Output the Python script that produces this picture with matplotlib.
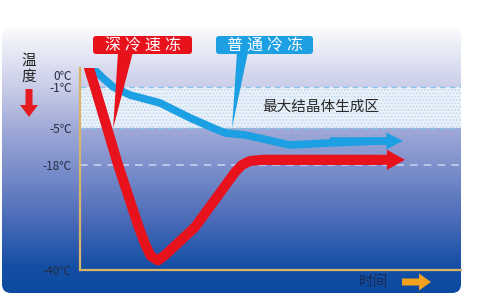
import numpy as np
import matplotlib as mpl
mpl.use('Agg')
import matplotlib.pyplot as plt
from matplotlib.colors import to_rgb
from matplotlib.patches import FancyBboxPatch, FancyArrowPatch, FancyArrow, Polygon

plt.rcParams['font.family'] = ['Noto Sans CJK SC', 'DejaVu Sans']

# temperature marks on the y axis (the axis is not linear)
tick_temps = [-40, -18, -5, -1, 0]
tick_labels = ['-40℃', '-18℃', '-5℃', '-1℃', '0℃']
tick_pos = [0, 105, 142, 183, 195]

# 深冷速冻 (deep freeze), time vs temperature, last point = arrow tip
red_t = [2.0, 2.9, 3.9, 7.1, 10.0, 15.4, 17.2, 18.6, 20.5, 22.3, 30.2, 36.7, 40.7, 42.5, 44.6, 47.8, 78.0, 85.3]
red_T = [1.0, 0.0, -1.0, -5.0, -18.0, -31.0, -34.8, -37.1, -38.0, -36.9, -31.0, -23.9, -19.5, -18.0, -16.6, -16.2, -16.2, -16.2]

# 普通冷冻 (normal freeze)
blue_t = [3.9, 6.0, 8.7, 13.1, 21.0, 28.9, 34.9, 38.1, 43.3, 55.1, 65.6, 78.0, 84.8]
blue_T = [0.4, -0.25, -1.0, -1.78, -2.56, -4.02, -5.0, -6.76, -7.46, -10.97, -10.27, -9.6, -9.57]

band = (-5, -1)      # 最大结晶体生成区
store_temp = -18

RED = '#e8121c'
BLUE = '#1d9fe3'
AXIS = '#d8b468'


def fwd(v):
    return np.interp(np.asarray(v, float), [-60] + tick_temps + [10], [-105] + tick_pos + [315])


def inv(p):
    return np.interp(np.asarray(p, float), [-105] + tick_pos + [315], [-60] + tick_temps + [10])


fig = plt.figure(figsize=(5, 3), dpi=100)

# background panel with vertical gradient
bg = fig.add_axes([0, 0, 1, 1])
bg.set_xlim(0, 500)
bg.set_ylim(300, 0)
bg.axis('off')
stop_y = [28, 45, 87, 128, 165, 220, 265, 293]
stop_c = ['#fbfbfe', '#eceef7', '#c9cde8', '#a0aad8', '#7f91cc', '#4b6bb8', '#1650a6', '#0b4a9e']
rows = np.arange(28, 294)
grad = np.stack([np.interp(rows, stop_y, [to_rgb(c)[k] for c in stop_c]) for k in range(3)], axis=-1)
img = bg.imshow(grad[:, None, :], extent=[2, 461, 293, 28], aspect='auto', interpolation='bilinear')
panel = FancyBboxPatch((2, 28), 459, 265, boxstyle='round,pad=0,rounding_size=9',
                       transform=bg.transData, facecolor='none', edgecolor='none')
bg.add_patch(panel)
img.set_clip_path(panel)

# main chart
ax = fig.add_axes([80 / 500, 30 / 300, 381 / 500, 202 / 300])
ax.set_facecolor('none')
ax.set_yscale('function', functions=(fwd, inv))
ax.set_xlim(0, 100)
ax.set_ylim(-40, 0.58)

ax.axhspan(band[0], band[1], facecolor='#edf3fa', edgecolor='#c3daee', hatch='.....', lw=0, zorder=1)
ax.axhline(band[0], color='#86c3e8', lw=1, dashes=(4, 3), zorder=2)
ax.axhline(band[1], color='#86c3e8', lw=1, dashes=(4, 3), zorder=2)
ax.axhline(store_temp, color='#cdd5f2', lw=1.1, dashes=(5, 4), zorder=2)

ax.plot(blue_t[:-1], blue_T[:-1], color=BLUE, lw=5.5, solid_joinstyle='round', zorder=3)
ax.add_patch(FancyArrowPatch((blue_t[-3], blue_T[-2]), (blue_t[-1], blue_T[-1]),
                             arrowstyle='simple,head_length=12,head_width=12,tail_width=5.5',
                             mutation_scale=1, color=BLUE, lw=0, shrinkA=0, shrinkB=0, zorder=3))
ax.plot(red_t[:-1], red_T[:-1], color=RED, lw=7.2, solid_joinstyle='round', zorder=4)
ax.add_patch(FancyArrowPatch((red_t[-3], red_T[-2]), (red_t[-1], red_T[-1]),
                             arrowstyle='simple,head_length=13,head_width=14.5,tail_width=7.2',
                             mutation_scale=1, color=RED, lw=0, shrinkA=0, shrinkB=0, zorder=4))

ax.set_yticks(tick_temps)
ax.set_yticklabels(tick_labels)
ax.set_xticks([])
ax.tick_params(axis='y', length=0, pad=6, labelsize=8.5, labelcolor='#262c44')
ax.yaxis.set_minor_locator(mpl.ticker.NullLocator())
for s in ['top', 'right']:
    ax.spines[s].set_visible(False)
for s in ['left', 'bottom']:
    ax.spines[s].set_color(AXIS)
    ax.spines[s].set_linewidth(1.6)

# overlay for labels and callouts (pixel coordinates)
ov = fig.add_axes([0, 0, 1, 1])
ov.set_xlim(0, 500)
ov.set_ylim(300, 0)
ov.axis('off')


def to_px(t, T):
    return ov.transData.inverted().transform(ax.transData.transform((t, T)))


def callout(text, x0, width, base, tip, color):
    tx, ty = to_px(*tip)
    ov.add_patch(Polygon([(base[0], 52), (base[1], 52), (tx, ty)], closed=True,
                         facecolor=color, edgecolor='none', zorder=5))
    ov.add_patch(FancyBboxPatch((x0, 36), width, 18, boxstyle='round,pad=0,rounding_size=3',
                                facecolor=color, edgecolor='none', zorder=6))
    cx = x0 + width / 2
    # letter-spaced label, one glyph every 20 px
    for i, ch in enumerate(text):
        ov.text(cx + (i - 1.5) * 20, 45.5, ch, color='white', fontsize=11.5,
                ha='center', va='center', zorder=7)


callout('深冷速冻', 93, 99, (118, 133), (8.7, -5.1), RED)
callout('普通冷冻', 216, 97, (237, 248), (39.9, -5.0), BLUE)

ov.text(29, 61, '温', fontsize=10.5, color='#222222', ha='center', va='center')
ov.text(29, 77, '度', fontsize=10.5, color='#222222', ha='center', va='center')
ov.add_patch(FancyArrow(29, 89, 0, 28, width=7, head_width=18, head_length=12,
                        length_includes_head=True, color='#e51d23', lw=0))

ov.text(321, 107, '最大结晶体生成区', fontsize=10.5, color='#2a2a2a', ha='center', va='center')

ov.text(373, 282, '时间', fontsize=10.5, color='#1a2a55', ha='center', va='center')
ov.add_patch(FancyArrow(402, 282, 29, 0, width=7, head_width=17, head_length=12,
                        length_includes_head=True, color='#f2a21e', lw=0))

fig.savefig('out.png', dpi=100)
